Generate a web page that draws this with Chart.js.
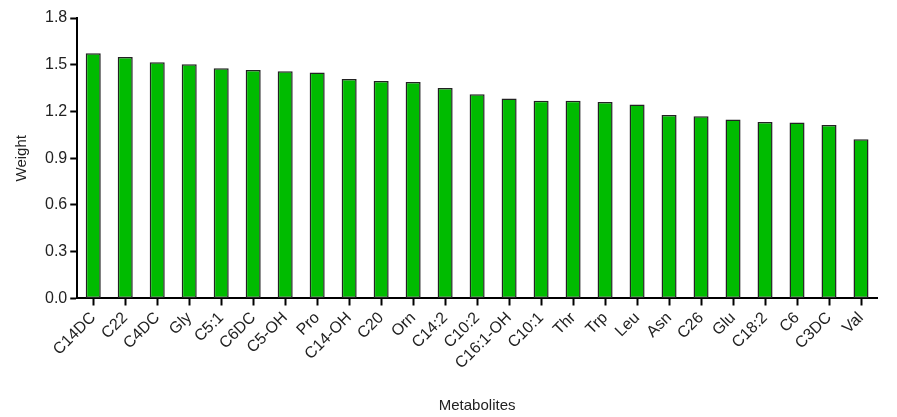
<!DOCTYPE html>
<html lang="en">
<head>
    <meta charset="UTF-8">
    <title>Metabolite weights</title>
    <script src="https://cdn.jsdelivr.net/npm/chart.js"></script>
    <style>
        html, body { margin: 0; padding: 0; background: #fff; }
        #wrap { width: 897px; height: 417px; }
    </style>
</head>
<body>
    <div id="wrap"><canvas id="weightChart"></canvas></div>

    <script>
        // data
        const metabolites = ['C14DC', 'C22', 'C4DC', 'Gly', 'C5:1', 'C6DC', 'C5-OH', 'Pro', 'C14-OH', 'C20',
            'Orn', 'C14:2', 'C10:2', 'C16:1-OH', 'C10:1', 'Thr', 'Trp', 'Leu', 'Asn', 'C26',
            'Glu', 'C18:2', 'C6', 'C3DC', 'Val'];
        const weights = [1.574, 1.550, 1.516, 1.503, 1.477, 1.466, 1.458, 1.451, 1.408, 1.395,
            1.389, 1.350, 1.310, 1.284, 1.269, 1.269, 1.261, 1.245, 1.178, 1.170,
            1.149, 1.133, 1.129, 1.114, 1.022];
        const yTicks = [0, 0.3, 0.6, 0.9, 1.2, 1.5, 1.8];

        const font = { family: '"Liberation Sans", Arial, sans-serif', size: 16 };
        const titleFont = { family: '"Liberation Sans", Arial, sans-serif', size: 15 };

        const ctx = document.getElementById('weightChart').getContext('2d');
        new Chart(ctx, {
            type: 'bar',
            data: {
                labels: metabolites,
                datasets: [{
                    data: weights,
                    backgroundColor: '#00bb00',
                    borderColor: '#222222',
                    borderWidth: 1.5,
                    borderSkipped: false,
                    categoryPercentage: 1.0,
                    barPercentage: 0.47
                }]
            },
            options: {
                responsive: true,
                maintainAspectRatio: false,
                animation: false,
                layout: { padding: { top: 18, right: 20, left: 13, bottom: 2 } },
                plugins: {
                    legend: { display: false },
                    tooltip: { enabled: false }
                },
                scales: {
                    x: {
                        offset: true,
                        grid: {
                            offset: false,
                            drawOnChartArea: false,
                            drawTicks: true,
                            tickLength: 7,
                            tickWidth: 2,
                            tickColor: '#000'
                        },
                        border: { color: '#000', width: 2 },
                        ticks: {
                            color: '#222',
                            font: font,
                            minRotation: 45,
                            maxRotation: 45,
                            autoSkip: false,
                            padding: 3
                        },
                        title: {
                            display: true,
                            text: 'Metabolites',
                            color: '#222',
                            font: titleFont,
                            padding: { top: 21, bottom: 0 }
                        }
                    },
                    y: {
                        min: 0,
                        max: 1.8,
                        afterBuildTicks: (axis) => { axis.ticks = yTicks.map(v => ({ value: v })); },
                        grid: {
                            drawOnChartArea: false,
                            drawTicks: true,
                            tickLength: 7,
                            tickWidth: 2,
                            tickColor: '#000'
                        },
                        border: { color: '#000', width: 2 },
                        ticks: {
                            color: '#222',
                            font: font,
                            padding: 3,
                            callback: (v) => Number(v).toFixed(1)
                        },
                        title: {
                            display: true,
                            text: 'Weight',
                            color: '#222',
                            font: titleFont,
                            padding: { top: 0, bottom: 11 }
                        }
                    }
                }
            }
        });
    </script>
</body>
</html>
